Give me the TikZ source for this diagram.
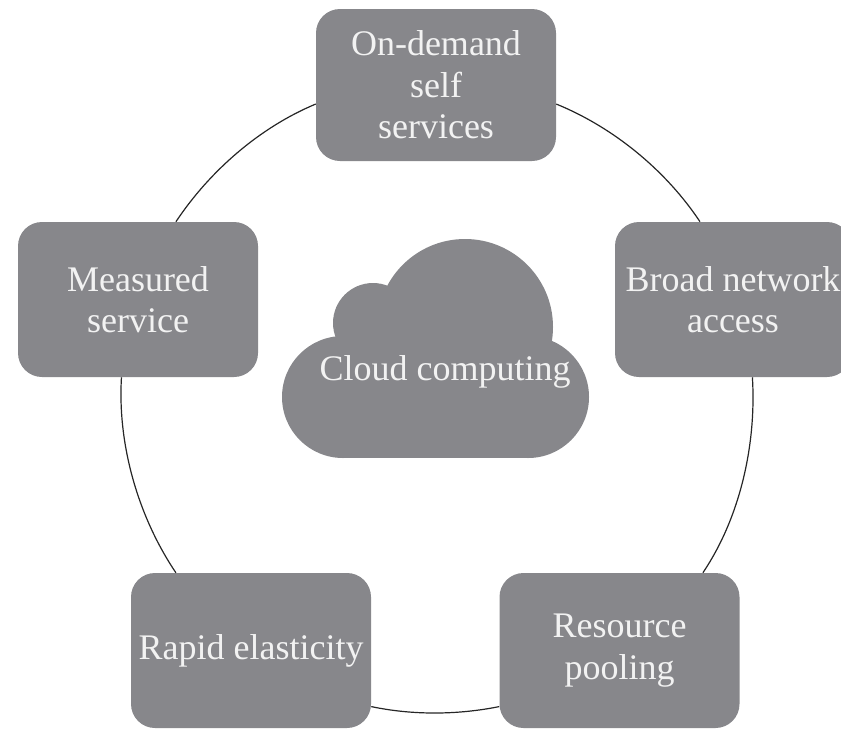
\documentclass[tikz,border=0pt]{standalone}
\usepackage{fontspec}
\setmainfont{Liberation Serif}
\definecolor{boxgrey}{HTML}{87878B}
\definecolor{boxtext}{HTML}{F2F2F2}
\tikzset{
  cardbox/.style={fill=boxgrey,text=boxtext,rounded corners=18pt,minimum width=180pt,minimum height=116.25pt,inner sep=0pt,align=center,font=\fontsize{27}{31}\selectfont},
  ringarc/.style={draw=black!85,line width=0.9pt,looseness=0.85},
  cloudlabel/.style={text=boxtext,inner sep=0pt,font=\fontsize{27}{31}\selectfont}
}
\begin{document}
\begin{tikzpicture}[x=0.75pt,y=-0.75pt]
\useasboundingbox (0,0) rectangle (841,728);
\clip (0,0) rectangle (841,728);
% cloud
\fill[boxgrey] (343,458) rectangle (528,336);
\fill[boxgrey] (343,397) circle [radius=45.75pt];
\fill[boxgrey] (528,397) circle [radius=45.75pt];
\fill[boxgrey] (373,323) circle [radius=30pt];
\fill[boxgrey] (465,327) circle [radius=66pt];
\node[cloudlabel] (cloud) at (445,372) {Cloud computing};
% boxes
\node[cardbox,minimum height=114pt] (ondemand) at (436,85) {\raisebox{-2pt}{On-demand}\\\raisebox{-2pt}{self}\\\raisebox{-2pt}{services}};
\node[cardbox,minimum width=177pt] (broad) at (733,299.5) {Broad network\\access};
\node[cardbox] (resource) at (619.5,650.5) {Resource\\pooling};
\node[cardbox] (rapid) at (251,650.5) {Rapid elasticity};
\node[cardbox] (measured) at (138,299.5) {Measured\\service};
% ring
\draw[ringarc] (ondemand.-9.5) to[out=-22.2,in=123.6] (broad.113.7);
\draw[ringarc] (broad.-76.2) to[out=-86.5,in=56] (resource.43.9);
\draw[ringarc] (resource.205.1) to[out=-168.6,in=-11.9] (rapid.-25.2);
\draw[ringarc] (rapid.134.4) to[out=124,in=-93.5] (measured.258.3);
\draw[ringarc] (measured.64.5) to[out=56.4,in=202.6] (ondemand.189.5);
\end{tikzpicture}
\end{document}
